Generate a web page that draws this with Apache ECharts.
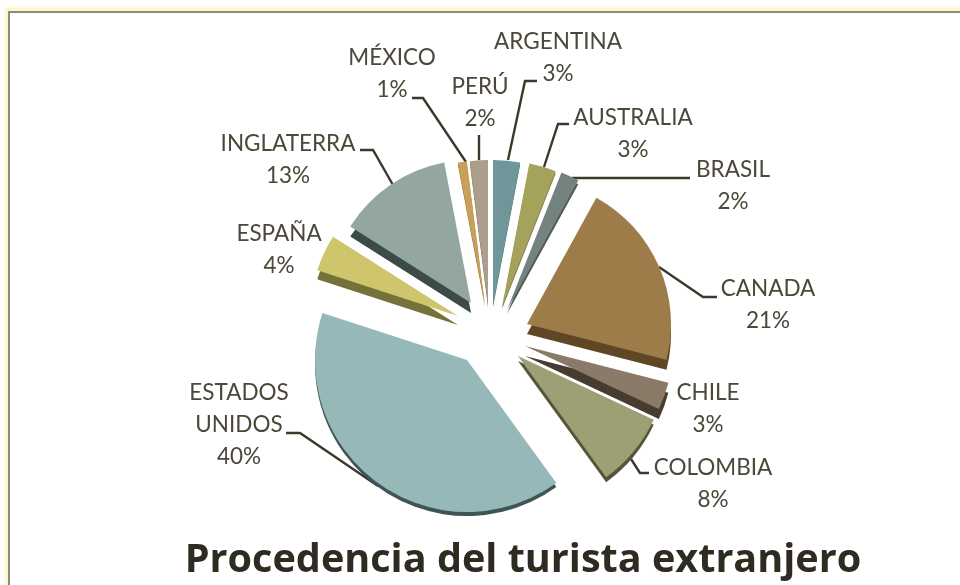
<!DOCTYPE html>
<html><head><meta charset="utf-8">
<style>html,body{margin:0;padding:0;background:#fff}#c{width:960px;height:585px}</style>
<script src="https://cdn.jsdelivr.net/npm/echarts@6/dist/echarts.min.js"></script>
</head><body><div id="c"></div>
<script>
const chartTitle = 'Procedencia del turista extranjero';
const categories = ['ARGENTINA','AUSTRALIA','BRASIL','CANADA','CHILE','COLOMBIA','ESTADOS\nUNIDOS','ESPAÑA','INGLATERRA','MÉXICO','PERÚ'];
const values = [3,3,2,21,3,8,40,4,13,1,2];
const colors = ['#6f9799','#a5a25c','#74837f','#9e7c4a','#8a7b68','#9f9f76','#97b8b8','#cfc56c','#94a6a0','#c9a05a','#ab9e8a'];
const sideColors = ['#4f6c6e','#77743f','#4f5c58','#5f4726','#483c30','#55553a','#3f5555','#74723a','#3c4a48','#8a6a30','#6b6050'];
// exploded slice apex, radius, extrusion depth
const apexes = [[493,305],[502,307],[507,310],[527,324],[525,346],[518,356],[467,360],[458,316],[471,303],[485,305],[488,305]];
const radii = [145,146,148,144,148,150,152,148,143,145,145];
const depths = [2,2,4,10,10,5,4,9,10,2,2];
// label centres
const labelPos = [[558,58],[633,134],[733,186],[768,305],[708,409],[713,484],[239,425],[279,250],[288,160],[392,74],[480,103]];
// leader lines, null where the reference draws none
const leaders = [
  [[508,160],[525,81],[537,81]],
  [[544,167],[558,124],[569,124]],
  [[572,178],[660,178],[690,178]],
  [[659,267],[703,297],[717,297]],
  null,
  [[631,459],[640,473],[649,473]],
  [[378,486],[300,433],[286,433]],
  null,
  [[393,185],[373,150],[360,150]],
  [[466,162],[423,98],[412,98]],
  [[479,160],[479,135],[479,135]]
];
const font = 'Lato';
const series = categories.map((_, i) => ({
  type: 'pie', silent: true, animation: false, clockwise: true, startAngle: 90, minAngle: 0,
  center: apexes[i], radius: [0, radii[i]], avoidLabelOverlap: false, z: 2,
  labelLine: {show: !!leaders[i], length: 14, length2: 10, smooth: false, lineStyle: {color: '#3d382b', width: 2.4}},
  labelLayout: () => {
    const l = {x: labelPos[i][0], y: labelPos[i][1], align: 'center', verticalAlign: 'middle'};
    if (leaders[i]) l.labelLinePoints = leaders[i];
    return l;
  },
  data: categories.map((name, j) => j === i ? {
    name, value: values[j],
    itemStyle: {color: colors[j], shadowColor: sideColors[j], shadowBlur: 0, shadowOffsetY: depths[j], borderWidth: 0},
    label: {show: true, position: 'outside', formatter: '{b}\n{d}%', fontFamily: font, fontSize: 22.5, lineHeight: 32, color: '#4b4739'},
    labelLine: {show: !!leaders[i]}
  } : {
    name, value: values[j],
    itemStyle: {color: 'rgba(0,0,0,0)'},
    label: {show: false}, labelLine: {show: false}
  })
}));
const chart = echarts.init(document.getElementById('c'));
chart.setOption({
  animation: false,
  backgroundColor: '#fff',
  title: {text: chartTitle, left: 518, top: 536, textAlign: 'center',
    textStyle: {fontFamily: 'Open Sans', fontWeight: 'bold', fontSize: 39.6, color: '#2f2b20'}},
  graphic: [
    {type: 'rect', z: -2, shape: {x: 6, y: 8, width: 1100, height: 700},
      style: {fill: '#fcf8c6', shadowColor: '#fbf6c0', shadowBlur: 5}},
    {type: 'rect', z: -1, shape: {x: 9, y: 12, width: 1100, height: 700},
      style: {fill: '#fff', stroke: '#8a8a86', lineWidth: 2}}
  ],
  series
});
</script></body></html>
